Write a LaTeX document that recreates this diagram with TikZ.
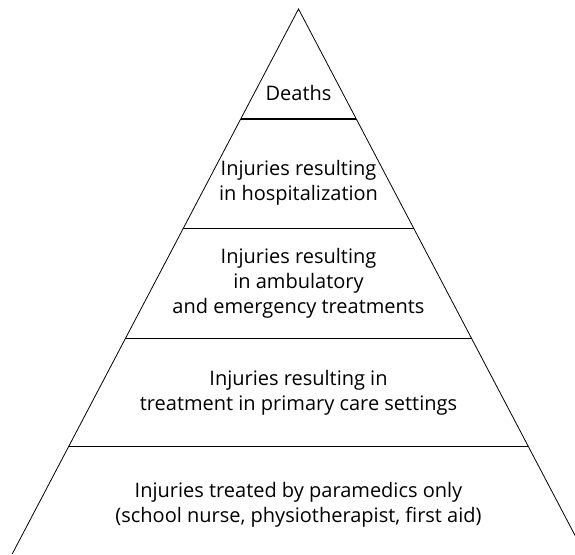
\documentclass[tikz,border=0pt]{standalone}
\usepackage{fontspec}
\setmainfont{Open Sans}
\usepackage{tikz}
\usetikzlibrary{calc}

\begin{document}
\begin{tikzpicture}[
    x=1pt, y=1pt,
    font=\fontsize{20}{25}\selectfont,
    level/.style={align=center, inner sep=0pt},
    side/.style={line width=0.8pt},
    band/.style={line width=1.2pt}
]

\useasboundingbox (0,0) rectangle (575,554);
\clip (0,0) rectangle (575,554);

% 金字塔外框
\coordinate (apex) at (298.5,545);
\coordinate (bl) at (12.2,0);
\coordinate (br) at (584.8,0);
\draw[side] (bl) -- (apex) -- (br);

% 分层横线
\foreach \t in {0.2018,0.4028,0.6046,0.8028}
    \draw[band] ($(apex)!\t!(bl)$) -- ($(apex)!\t!(br)$);

% 各层文字
\node[level] (deaths) at (298.5,461) {Deaths};
\node[level] (hosp) at (298.5,371) {Injuries resulting \\ in hospitalization};
\node[level] (amb) at (298.5,271) {Injuries resulting \\ in ambulatory \\ and emergency treatments};
\node[level] (prim) at (298.5,161) {Injuries resulting in \\ treatment in primary care settings};
\node[level] (para) at (298.5,49) {Injuries treated by paramedics only \\ (school nurse, physiotherapist, first aid)};

\end{tikzpicture}
\end{document}
